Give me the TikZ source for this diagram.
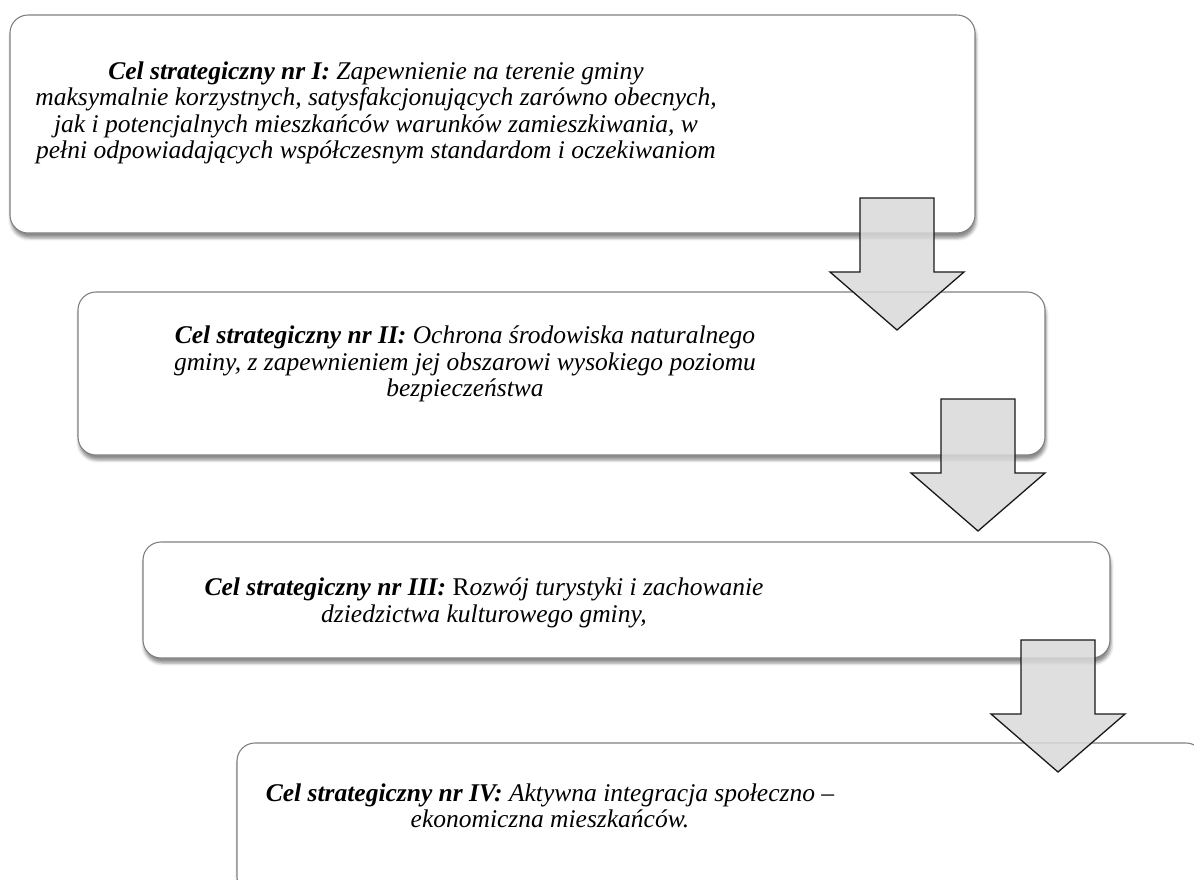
\documentclass[tikz,border=0pt]{standalone}
\usepackage{fontspec}
\setmainfont{Liberation Serif}
\usetikzlibrary{shadows.blur}
\tikzset{
  goalbox/.style={draw=black!50, line width=1.1pt, fill=white, rounded corners=18pt,
    inner sep=0pt,
    blur shadow={shadow xshift=1pt, shadow yshift=-5pt, shadow blur radius=3pt, shadow opacity=45}},
  goaltext/.style={align=center, inner sep=0pt, font=\fontsize{25.5}{26.5}\selectfont\itshape},
  blockarrow/.style={draw=black!90, line width=1.3pt, fill=black!15, fill opacity=0.85, line join=miter}
}
\newcommand{\lbl}[1]{\textbf{\itshape #1}}
\begin{document}
\begin{tikzpicture}[x=1pt,y=-1pt]
\useasboundingbox (0,0) rectangle (1194,879);
\clip (0,0) rectangle (1194,879);
% boxes
\node[goalbox, minimum width=965pt, minimum height=218pt] (b1) at (492.5,124) {};
\node[goalbox, minimum width=967pt, minimum height=163pt] (b2) at (561.5,373.5) {};
\node[goalbox, minimum width=967pt, minimum height=116pt] (b3) at (626.5,600) {};
\node[goalbox, minimum width=967pt, minimum height=152pt] (b4) at (720.5,819) {};
% texts
\node[goaltext] (t1) at (376,113) {\lbl{Cel strategiczny nr I:} Zapewnienie na terenie gminy\\
maksymalnie korzystnych, satysfakcjonujących zarówno obecnych,\\
jak i potencjalnych mieszkańców warunków zamieszkiwania, w\\
pełni odpowiadających współczesnym standardom i oczekiwaniom};
\node[goaltext] (t2) at (465,364) {\lbl{Cel strategiczny nr II:} Ochrona środowiska naturalnego\\
gminy, z zapewnieniem jej obszarowi wysokiego poziomu\\
bezpieczeństwa};
\node[goaltext] (t3) at (484,603) {\lbl{Cel strategiczny nr III:} {\upshape R}ozwój turystyki i zachowanie\\
dziedzictwa kulturowego gminy,};
\node[goaltext] (t4) at (550,806) {\lbl{Cel strategiczny nr IV:} Aktywna integracja społeczno –\\
ekonomiczna mieszkańców.};
% block arrows
\foreach \name/\cx/\ty in {a1/897/198, a2/978/399, a3/1058/640}{
  \coordinate (\name) at (\cx,\ty);
  \draw[blockarrow] (\name) ++(-37,0) -- ++(74,0) -- ++(0,74) -- ++(30,0)
    -- ++(-67,58) -- ++(-67,-58) -- ++(30,0) -- cycle;
}
\end{tikzpicture}
\end{document}
